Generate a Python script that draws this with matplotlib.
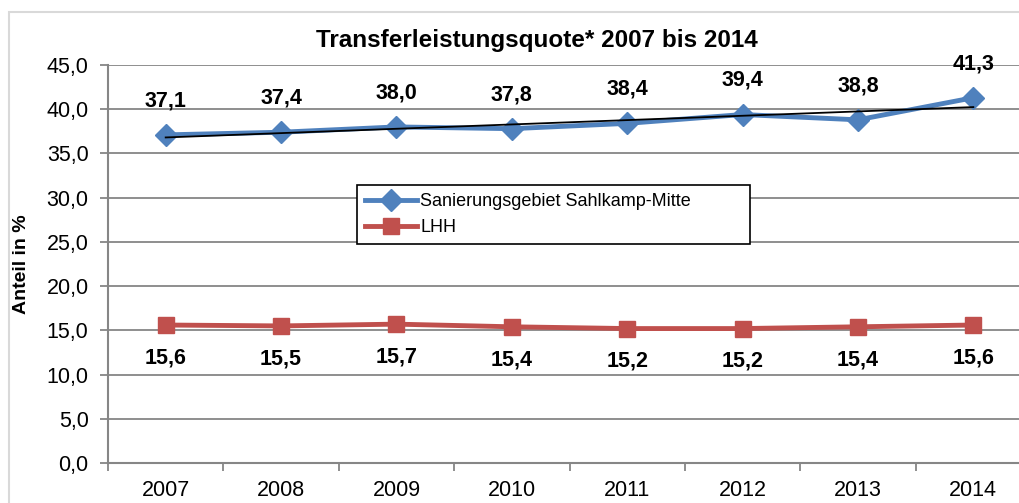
import matplotlib.pyplot as plt
from matplotlib.patches import Rectangle
import numpy as np

# Daten
jahre = ["2007", "2008", "2009", "2010", "2011", "2012", "2013", "2014"]
sahlkamp = [37.1, 37.4, 38.0, 37.8, 38.4, 39.4, 38.8, 41.3]
lhh = [15.6, 15.5, 15.7, 15.4, 15.2, 15.2, 15.4, 15.6]

blau = "#4F81BD"
rot = "#C0504D"
grau = "#868686"

plt.rcParams['font.family'] = ['Liberation Sans', 'DejaVu Sans']

fig = plt.figure(figsize=(10.19, 5.03), dpi=100)
# Rahmen um das Diagramm
fig.patches.append(Rectangle((9 / 1019, -0.1), 1.2, 1 - 12 / 503 + 0.1,
                             transform=fig.transFigure, fill=False,
                             edgecolor="#d9d9d9", linewidth=1.5))

ax = fig.add_axes([108 / 1019, 1 - 463 / 503, 923 / 1019, 398 / 503])
x = np.arange(len(jahre))

ax.plot(x, sahlkamp, color=blau, lw=3.5, marker="D", ms=11,
        label="Sanierungsgebiet Sahlkamp-Mitte", zorder=3)
ax.plot(x, lhh, color=rot, lw=3.5, marker="s", ms=11, label="LHH", zorder=3)

# lineare Trendlinie
m, b = np.polyfit(x, sahlkamp, 1)
ax.plot(x, m * x + b, color="black", lw=1.3, zorder=4)

# Datenbeschriftungen
for xi, v in zip(x, sahlkamp):
    ax.annotate(f"{v:.1f}".replace(".", ","), (xi, v), xytext=(0, 17),
                textcoords="offset points", ha="center", va="bottom",
                fontsize=15.5, fontweight="bold")
for xi, v in zip(x, lhh):
    ax.annotate(f"{v:.1f}".replace(".", ","), (xi, v), xytext=(0, -16),
                textcoords="offset points", ha="center", va="top",
                fontsize=15.5, fontweight="bold")

ax.set_xlim(-0.5, len(jahre) - 0.5)
ax.set_ylim(0, 45)
ax.set_yticks(np.arange(0, 46, 5))
ax.set_yticklabels([f"{v:.1f}".replace(".", ",") for v in np.arange(0, 46, 5)],
                   fontsize=15.5)
ax.set_xticks(x)
ax.set_xticklabels(jahre, fontsize=15.5)
ax.set_xticks(np.arange(-0.5, len(jahre), 1), minor=True)
ax.tick_params(axis="x", which="major", length=0, pad=12)
ax.tick_params(axis="x", which="minor", length=6, color=grau, width=1.3)
ax.tick_params(axis="y", length=6, color=grau, width=1.3, pad=8)

ax.grid(axis="y", color=grau, lw=1.3)
ax.set_axisbelow(True)
for s in ["top", "right"]:
    ax.spines[s].set_visible(False)
for s in ["left", "bottom"]:
    ax.spines[s].set_color(grau)
    ax.spines[s].set_linewidth(1.5)

ax.set_ylabel("Anteil in %", fontsize=14, fontweight="bold", labelpad=12)
fig.text(537 / 1019, 1 - 40 / 503, "Transferleistungsquote* 2007 bis 2014",
         ha="center", va="center", fontsize=17.5, fontweight="bold")

leg = ax.legend(loc="upper left",
                bbox_to_anchor=(249 / 923, (463 - 248) / 398, 393 / 923, 63 / 398),
                mode="expand", fontsize=13, frameon=True, fancybox=False,
                edgecolor="black", framealpha=1, handlelength=2.9,
                borderpad=0.45, labelspacing=0.5, handletextpad=0.15,
                borderaxespad=0)
leg.get_frame().set_linewidth(1.2)

fig.savefig("out.png", dpi=100)
